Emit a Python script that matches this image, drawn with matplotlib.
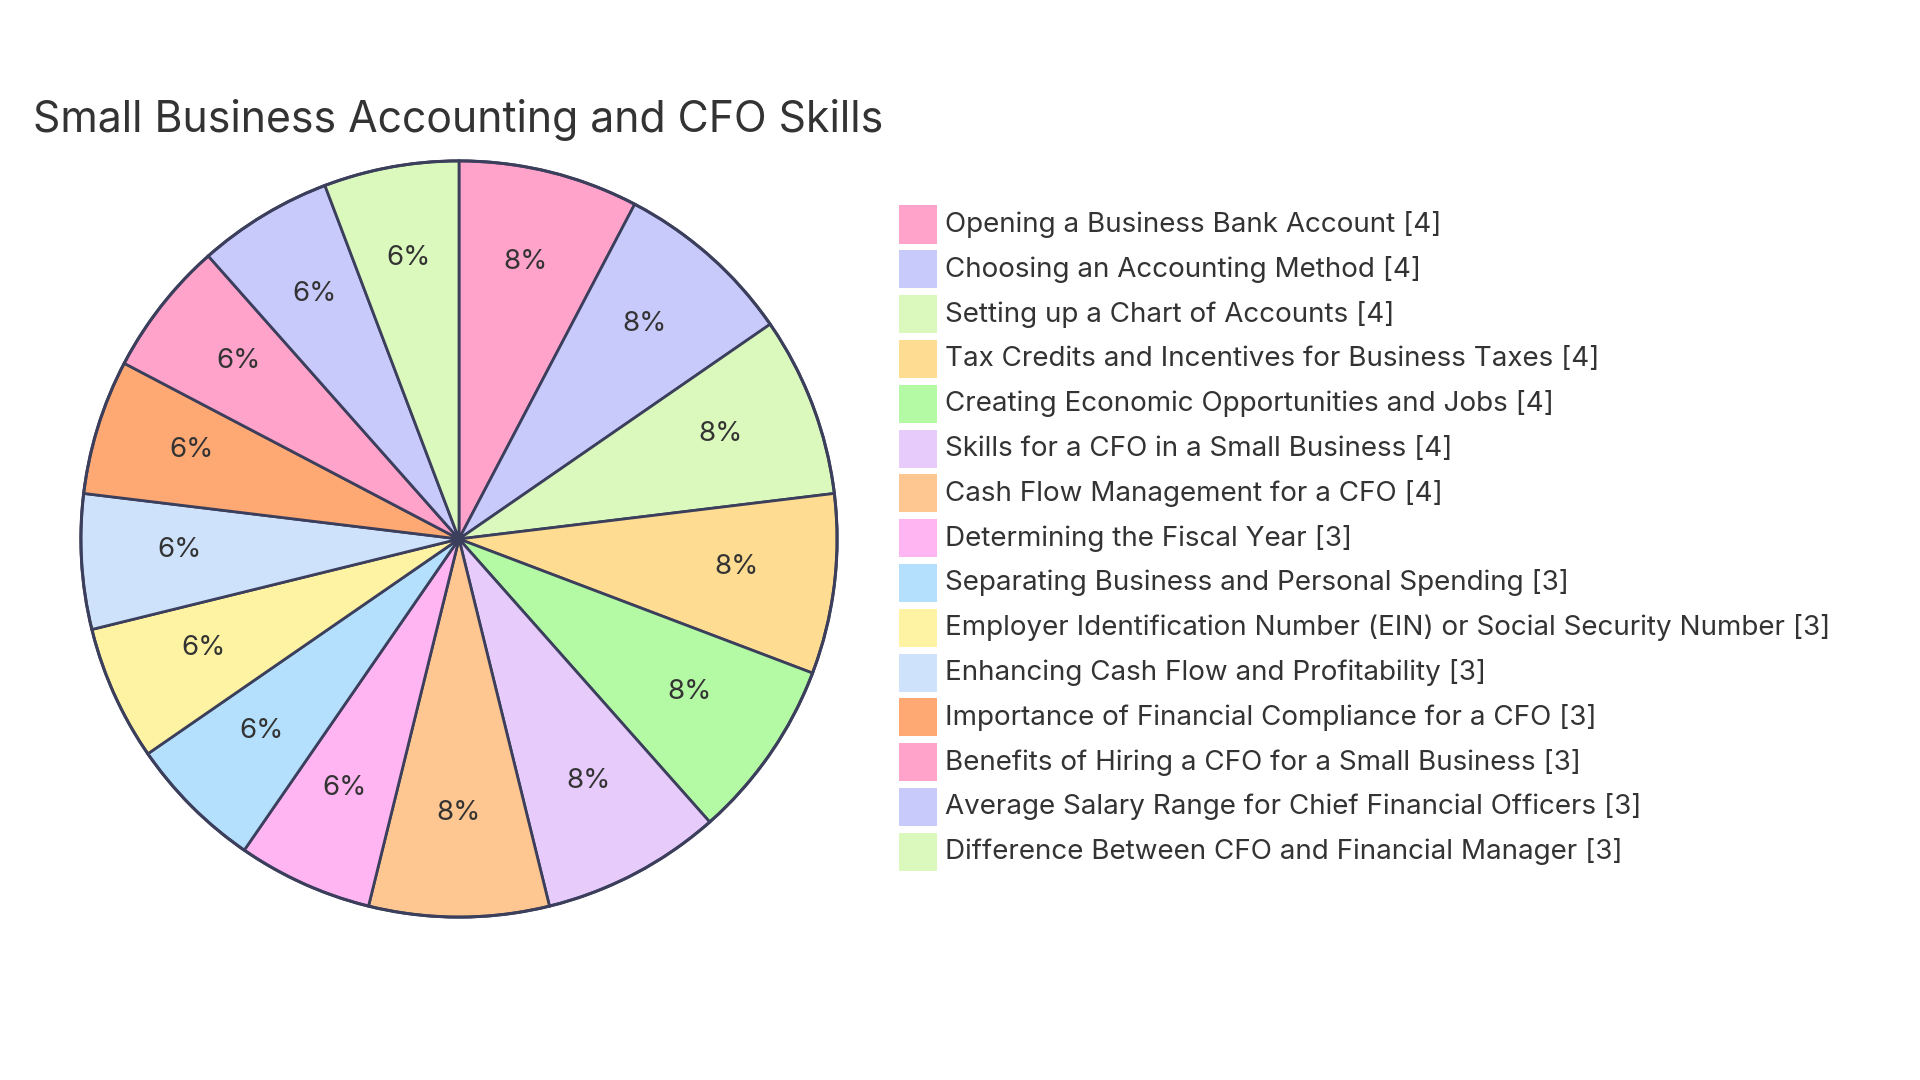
import matplotlib.pyplot as plt
from matplotlib.patches import Rectangle

title = 'Small Business Accounting and CFO Skills'
labels = [
    'Opening a Business Bank Account',
    'Choosing an Accounting Method',
    'Setting up a Chart of Accounts',
    'Tax Credits and Incentives for Business Taxes',
    'Creating Economic Opportunities and Jobs',
    'Skills for a CFO in a Small Business',
    'Cash Flow Management for a CFO',
    'Determining the Fiscal Year',
    'Separating Business and Personal Spending',
    'Employer Identification Number (EIN) or Social Security Number',
    'Enhancing Cash Flow and Profitability',
    'Importance of Financial Compliance for a CFO',
    'Benefits of Hiring a CFO for a Small Business',
    'Average Salary Range for Chief Financial Officers',
    'Difference Between CFO and Financial Manager',
]
values = [4, 4, 4, 4, 4, 4, 4, 3, 3, 3, 3, 3, 3, 3, 3]
colors = ['#FFA3CB', '#C9CAFC', '#DCF9BD', '#FEDD93', '#B4F9A3',
          '#E6CBFB', '#FEC690', '#FEB5F1', '#B4E0FE', '#FEF3A3',
          '#CEE2FB', '#FEA873', '#FFA3CB', '#C9CAFC', '#DCF9BD']

plt.rcParams['font.family'] = ['Inter', 'DejaVu Sans']
W, H = 1920, 1080
fig = plt.figure(figsize=(19.2, 10.8), dpi=100)

# pie
cx, cy, r = 459, 539, 380
ax = fig.add_axes([(cx - r) / W, (H - cy - r) / H, 2 * r / W, 2 * r / H])
wedges, texts, autotexts = ax.pie(
    values, colors=colors, startangle=90, counterclock=False,
    autopct=lambda p: '%d%%' % round(p), pctdistance=0.74,
    wedgeprops=dict(edgecolor='#3B3F5C', linewidth=2))
for t in autotexts:
    t.set_fontsize(20)
    t.set_color('#333333')
    px, py = t.get_position()
    t.set_position((px, py + 0.015))
ax.add_patch(plt.Circle((0, 0), 1, fill=False, edgecolor='#3B3F5C', linewidth=2.2))
ax.set_xlim(-1.005, 1.005)
ax.set_ylim(-1.005, 1.005)
ax.set_aspect('equal')
ax.axis('off')

fig.text(33 / W, 1 - 120 / H, title, fontsize=30.8, color='#333333', va='center', ha='left')

# legend
x0, y0, step, sw = 899, 224.5, 44.8, 38
for i, (lab, v, c) in enumerate(zip(labels, values, colors)):
    y = y0 + i * step
    fig.patches.append(Rectangle((x0 / W, (H - y - sw / 2) / H), sw / W, sw / H,
                                 facecolor=c, edgecolor='none', transform=fig.transFigure))
    fig.text(945 / W, 1 - y / H, '%s [%d]' % (lab, v), fontsize=20,
             color='#333333', va='center', ha='left')

fig.savefig('out.png', dpi=100, facecolor='white')
